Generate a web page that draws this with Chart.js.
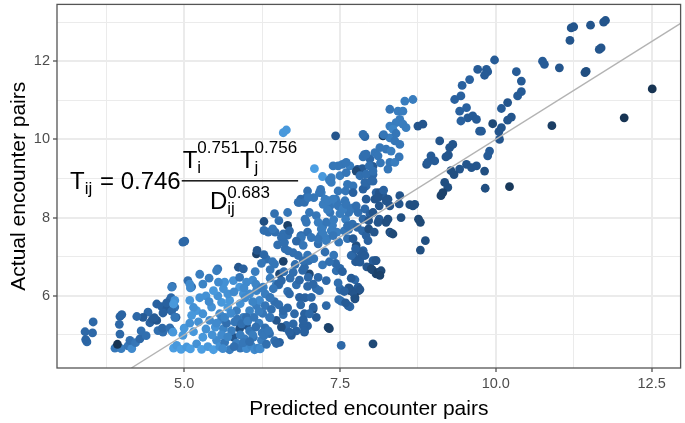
<!DOCTYPE html>
<html>
<head>
<meta charset="utf-8">
<script src="https://cdn.jsdelivr.net/npm/chart.js@4.4.1/dist/chart.umd.min.js"></script>
<style>
  html, body { margin: 0; padding: 0; background: #fff; }
  #encounters { display: block; }
</style>
</head>
<body>
<canvas id="encounters" width="685" height="423"></canvas>
<script>
// each point: [predicted, actual, shade]  (shade = colour variable, 0 dark .. 1 light)
const farLeft = [
  [3.41,5.08,.45],[3.54,5.33,.45],[3.53,5.05,.45],[3.44,4.82,.45],[3.42,4.88,.42],
  [3.97,5.47,.4],[4.00,5.52,.42],[3.96,5.27,.45],[3.97,5.02,.45],[3.89,4.66,.55],[3.99,4.65,.6],[3.93,4.76,.05],
  [4.10,4.72,.55],[4.16,4.65,.7],[4.13,4.86,.5],[4.22,4.80,.55],[4.29,4.90,.45],[4.31,5.10,.5],[4.39,4.98,.5],
  [4.45,5.31,.4],[4.49,5.40,.35],[4.42,5.58,.45],[4.34,5.45,.35],[4.24,5.47,.45],[4.56,5.37,.3],[4.52,5.44,.35],
  [4.58,5.11,.5],[4.66,5.07,.5],[4.65,5.17,.45],[4.56,5.79,.4],[4.64,5.72,.4],[4.72,5.66,.35],[4.66,5.56,.4],
  [4.77,5.88,.45],[4.85,5.71,.5],[4.80,5.61,.45],[4.87,5.45,.4],[4.80,5.11,.55],[4.77,5.18,.5],[4.81,6.24,.45],
  [4.79,5.95,.45],[4.72,5.82,.4],[5.06,6.39,.5],[5.12,6.23,.5],[4.98,7.37,.45],[5.01,7.40,.45]
];
const lowerCluster = [
  [4.83,4.66,.85],[4.88,4.73,.8],[4.95,4.63,.85],[5.04,4.69,.8],[5.10,4.64,.85],[5.20,4.77,.75],[5.28,4.63,.85],
  [5.30,4.94,.8],[5.38,4.70,.8],[5.47,4.62,.85],[5.52,4.86,.7],[5.57,4.70,.75],[5.65,4.81,.55],[5.73,4.62,.6],
  [5.79,4.94,.3],[5.84,4.79,.6],[5.90,4.66,.55],[5.97,4.90,.6],[6.00,4.65,.7],[6.08,4.72,.65],[6.11,4.94,.55],
  [6.13,4.62,.7],[6.18,4.66,.65],[6.24,4.86,.6],[6.22,4.64,.7],[4.82,5.07,.8],[4.98,4.99,.8],[5.00,5.17,.8],
  [5.09,5.30,.75],[5.15,5.08,.8],[5.23,5.33,.75],[5.20,5.62,.8],[5.30,5.54,.75],[5.41,5.37,.7],[5.44,5.71,.75],
  [5.50,5.20,.75],[5.57,5.54,.7],[5.63,5.16,.65],[5.60,5.40,.6],[5.68,5.30,.5],[5.76,5.11,.6],[5.81,5.33,.55],
  [5.89,5.16,.25],[6.00,5.24,.3],[6.05,5.10,.55],[5.95,5.45,.6],[5.84,5.62,.6],[6.05,5.62,.65],[6.16,5.75,.6],
  [6.20,5.30,.6],[6.37,5.45,.55],[6.48,5.37,.3],[6.37,5.03,.5],[6.30,5.18,.5],[6.26,5.55,.55],[4.85,5.88,.75],
  [4.83,5.79,.8],[4.85,5.45,.55],[5.09,5.88,.8],[5.15,5.70,.75],[5.60,5.83,.8],[5.73,5.88,.8],[5.54,6.00,.75],
  [5.47,6.13,.8],[5.63,6.18,.75],[5.65,6.35,.75],[5.89,6.22,.8],[5.79,6.39,.75],[5.95,6.05,.75],[6.05,6.05,.7],
  [6.16,6.13,.65],[6.27,6.22,.65],[6.21,5.88,.7],[6.37,5.96,.65],[6.48,6.30,.6],[5.30,6.30,.65],[5.09,6.30,.7],
  [5.10,6.20,.7],[4.80,6.22,.6],[5.54,6.69,.55],[5.52,6.64,.6],[5.87,6.73,.3],[5.95,6.69,.4],[5.89,6.47,.55],
  [6.16,7.07,.15],[6.32,6.94,.5],[6.45,6.81,.55],[6.38,6.67,.55],[5.35,6.00,.75],[5.25,5.95,.75],[5.40,5.85,.7],
  [5.12,5.50,.8],[5.35,5.15,.75],[5.45,5.00,.75],[5.60,5.00,.7],[5.90,5.00,.6],[5.70,5.70,.8],[5.90,5.80,.75],
  [6.00,5.45,.5],[5.55,6.35,.7],[5.70,6.05,.75],[6.10,6.40,.7],
  [5.52,5.30,.7],[5.65,5.45,.65],[5.75,5.55,.7],[5.85,5.40,.55],[5.92,5.28,.5],[6.02,5.35,.6],[6.12,5.45,.55],
  [6.15,5.20,.5],[6.25,5.05,.55],[6.10,5.00,.6],[5.95,4.80,.55],[5.70,4.95,.65],[5.62,4.65,.7],[5.80,4.70,.5],
  [6.05,4.83,.5],[6.28,4.98,.55],[6.20,5.60,.6],[6.30,5.75,.55],[6.10,5.85,.65],[5.98,5.95,.7],[6.40,5.65,.5],
  [6.45,5.85,.5],[6.30,6.05,.6],[6.15,6.30,.65],[6.00,6.35,.7],[5.80,6.10,.7],[5.40,6.45,.6],[5.25,6.55,.6]
];
const midLower = [
  [6.17,7.16,.3],[6.28,7.05,.45],[6.42,6.87,.55],[6.24,6.83,.55],[6.14,6.62,.6],[6.38,6.45,.6],[6.52,6.28,.55],
  [6.59,6.88,.15],[6.53,6.56,.2],[6.51,6.30,.45],[6.43,6.18,.55],[6.66,6.11,.5],[6.69,6.05,.45],[6.80,6.28,.5],
  [6.85,5.96,.4],[6.98,6.24,.45],[6.94,5.95,.4],[6.87,5.77,.45],[6.66,5.69,.45],[6.52,5.77,.5],[6.38,5.95,.55],
  [6.24,6.20,.6],[5.96,6.20,.7],[6.59,5.52,.5],[6.38,5.44,.55],[6.62,5.18,.45],[6.80,5.10,.4],[6.98,5.23,.4],
  [6.91,5.39,.45],[6.35,5.10,.55],[6.45,4.85,.5],[6.32,4.76,.5],[6.53,4.81,.4],[6.48,4.78,.45],[6.72,4.99,.35],
  [6.64,5.24,.45],[6.91,5.24,.4],[6.93,5.07,.35],[7.31,5.19,.15],[7.33,5.16,.15],[7.07,5.66,.25],[7.12,5.45,.35],
  [6.93,5.54,.4],[7.28,5.75,.45],[7.12,6.18,.5],[7.15,6.47,.45],[7.01,6.56,.2],[6.90,6.65,.45],[7.28,6.39,.45],
  [7.44,6.64,.5],[7.50,6.70,.45],[7.74,6.41,.45],[7.66,6.13,.15],[7.80,6.13,.15],[7.74,5.96,.2],[7.51,6.15,.45],
  [7.52,5.86,.5],[7.66,5.72,.45],[7.52,4.73,.45],[8.03,4.77,.2],[6.70,6.45,.5],[6.78,6.80,.5],[6.60,6.62,.5],
  [6.85,6.40,.45],[7.00,6.90,.5],[7.05,6.95,.5],[7.07,6.30,.45],[7.17,6.13,.5],[7.04,5.96,.45],[7.07,5.71,.4],
  [7.01,5.54,.45],[6.91,5.37,.4],[6.93,5.11,.4],[6.77,5.54,.45],[6.75,5.28,.45],[6.69,5.07,.4],[6.59,5.62,.45],
  [6.56,5.20,.25],[6.56,6.39,.45],[6.93,6.73,.45],[6.99,6.47,.45],[6.75,6.60,.5],[7.66,6.18,.35],[7.79,6.22,.35],
  [7.71,6.09,.3],[7.74,5.92,.25],[7.50,6.18,.45],[7.63,5.75,.4]
];
const middle = [
  [7.98,6.73,.2],[8.08,6.56,.15],[8.02,6.66,.2],[8.14,6.60,.15],[7.82,6.16,.3],[8.07,6.90,.3],[7.76,7.28,.25],
  [7.87,7.15,.4],[7.71,7.03,.4],[8.03,6.90,.35],[7.82,6.95,.35],[7.75,6.87,.35],[7.93,6.74,.3],[7.68,6.45,.35],
  [7.54,6.62,.4],[7.43,6.83,.45],[7.64,6.20,.3],[7.57,6.11,.4],[7.48,5.90,.5],[7.59,5.82,.35],[7.47,6.33,.5],
  [7.22,6.79,.55],[7.33,6.87,.5],[7.40,7.04,.55],[7.26,7.12,.5],[7.08,6.95,.55],[6.98,7.04,.55],[6.91,7.29,.55],
  [6.87,7.53,.55],[6.98,7.63,.5],[6.94,7.96,.55],[7.01,8.13,.55],[7.12,8.05,.55],[7.15,7.33,.5],[7.19,7.54,.55],
  [7.29,7.46,.6],[7.48,7.37,.55],[7.62,7.46,.5],[7.45,7.63,.6],[7.64,7.70,.55],[7.22,7.75,.6],[7.38,7.80,.6],
  [7.28,7.88,.55],[7.40,7.95,.6],[7.59,7.96,.6],[7.34,8.13,.55],[7.50,8.10,.6],[7.64,8.13,.55],[7.71,8.25,.55],
  [7.34,8.30,.55],[7.45,8.38,.6],[7.26,8.47,.6],[7.43,8.47,.55],[7.20,8.64,.6],[7.47,8.68,.55],[7.58,8.43,.55],
  [7.59,8.68,.55],[7.62,8.85,.55],[7.19,8.72,.55],[6.98,8.68,.5],[6.96,8.51,.5],[6.85,8.39,.5],[6.87,8.47,.45],
  [7.08,8.51,.55],[7.30,8.20,.6],[6.66,8.13,.55],[6.66,7.80,.15],[6.52,7.92,.5],[6.66,7.55,.5],[6.46,7.63,.5],
  [6.35,7.63,.5],[6.28,7.67,.5],[6.42,7.71,.55],[6.28,7.90,.25],[6.45,8.10,.5],[6.59,7.58,.5],[6.69,7.66,.45],
  [6.88,7.54,.5],[7.04,7.49,.55],[6.96,7.88,.55],[7.15,7.88,.6],[7.20,7.71,.6],[7.36,7.66,.6],[6.88,7.49,.55],
  [6.62,7.20,.5],[6.75,7.10,.5],[6.50,7.30,.5],[6.80,7.40,.45],[6.83,8.39,.5],[6.93,8.39,.5],[6.99,8.51,.55],
  [7.17,8.64,.55],[7.23,8.34,.6],[7.31,8.43,.6],[7.39,8.47,.6],[7.47,8.30,.55],[7.55,8.22,.6],[7.60,8.34,.55],
  [7.68,8.22,.55],[7.76,8.30,.5],[7.79,8.13,.5],[7.90,8.22,.45],[7.98,8.09,.4],[7.87,7.96,.45],[7.23,7.58,.6],
  [7.15,7.45,.55],[7.28,7.41,.6],[7.39,7.54,.55],[7.57,7.66,.55],[7.62,7.79,.5],[7.70,7.83,.5],[7.78,7.75,.45],
  [7.86,7.66,.45],[7.92,7.54,.4],[7.95,7.41,.4],[7.87,7.15,.4],[7.84,7.11,.35],[7.90,7.03,.35],[7.68,7.03,.45],
  [7.82,6.86,.35],[8.08,6.90,.3],[8.00,6.69,.2],[8.11,6.60,.15],[8.16,6.64,.2],[8.14,6.52,.15],[6.56,7.49,.5],
  [6.61,7.36,.5],[6.67,7.15,.5],[6.83,7.03,.5],[6.91,6.90,.5],[7.36,8.90,.6],[7.71,8.81,.55],[7.92,8.81,.45],
  [8.08,8.64,.4],[8.19,8.56,.35],[8.27,8.47,.3]
];
const middleRight = [
  [7.71,7.46,.35],[7.75,7.20,.4],[7.96,7.71,.25],[8.05,7.63,.3],[8.30,7.63,.2],[7.96,7.92,.3],[8.03,8.13,.3],
  [8.13,7.96,.35],[8.27,7.96,.25],[8.13,8.30,.3],[8.06,8.47,.3],[7.92,8.47,.35],[8.13,8.64,.3],[7.71,8.64,.4],
  [7.78,9.23,.3],[7.86,9.25,.35],[8.03,9.31,.35],[8.03,9.10,.45],[8.03,8.93,.45],[7.98,9.50,.45],[7.89,9.61,.5],
  [8.67,8.30,.25],[8.62,8.33,.25],[8.79,7.88,.2],[8.76,7.96,.2],[8.87,7.41,.25],[8.79,7.17,.25],[8.48,8.00,.25],
  [8.32,7.60,.3],[8.11,7.88,.3],[8.24,7.88,.25],[8.35,7.58,.2],[8.70,8.34,.25],[8.46,8.56,.3],[8.11,8.51,.3],
  [8.24,8.43,.3],[8.30,8.30,.3],[8.20,8.70,.4],[8.45,8.35,.3],[7.87,8.73,.4],[7.90,8.90,.45]
];
const upperArm = [
  [6.59,10.17,.8],[6.64,10.24,.8],[7.09,9.25,.85],[7.22,9.05,.8],[7.43,10.09,.3],[7.90,10.07,.45],[8.19,10.09,.1],
  [7.87,9.55,.5],[7.92,9.62,.5],[8.06,9.66,.55],[7.54,9.36,.55],[7.66,9.32,.6],[7.76,9.19,.2],[7.60,9.41,.55],
  [7.47,9.32,.55],[7.39,9.32,.55],[7.36,9.02,.6],[7.50,9.07,.6],[7.60,9.15,.55],[7.82,9.07,.5],[7.33,8.96,.6],
  [8.67,11.02,.6],[8.54,10.98,.6],[8.30,10.77,.55],[8.43,10.72,.6],[8.51,10.72,.6],[8.46,10.51,.6],[8.40,10.43,.6],
  [8.51,10.39,.6],[8.56,10.30,.6],[8.30,10.34,.6],[8.75,10.34,.3],[8.83,10.39,.3],[8.30,10.04,.6],[8.38,9.96,.55],
  [8.46,9.87,.55],[8.14,9.79,.55],[8.24,9.75,.55],[8.32,9.70,.6],[8.11,9.58,.55],[8.30,9.41,.55],[8.38,9.41,.6],
  [8.27,9.24,.55],[8.35,10.26,.65],[7.87,10.13,.5],[7.92,9.11,.5],[8.03,9.19,.5],[8.00,8.94,.45],[8.20,10.12,.55],
  [8.40,10.15,.55],[8.15,9.40,.55],[8.45,9.55,.55],[7.97,9.32,.5]
];
const rightOfLine = [
  [8.89,9.36,.3],[8.96,9.58,.35],[9.02,9.45,.35],[9.10,9.96,.3],[9.26,9.79,.3],[9.31,9.87,.3],[9.20,9.55,.3],
  [9.24,9.60,.3],[8.91,9.41,.35],[9.34,11.02,.4],[9.44,11.11,.4],[9.42,10.72,.4],[9.53,10.81,.4],[9.55,10.55,.35],
  [9.63,10.60,.35],[9.69,10.51,.35],[9.44,10.47,.4],[9.58,11.53,.4],[9.46,11.38,.4],[9.42,9.24,.3],[9.53,9.36,.3],
  [9.61,9.28,.3],[9.69,9.32,.3],[9.82,9.19,.25],[9.28,9.20,.25],[9.33,9.10,.25],[9.90,9.70,.35],[9.87,9.58,.35],
  [9.74,10.21,.35],[9.18,8.90,.25],[9.23,8.77,.25],[9.12,8.56,.15],[9.15,8.64,.15],[9.83,8.75,.25]
];
const topRight = [
  [9.98,12.03,.35],[9.85,11.79,.35],[9.87,11.73,.35],[9.82,11.64,.35],[9.71,11.79,.35],[10.33,11.73,.35],
  [10.41,11.49,.35],[10.41,11.22,.35],[10.35,11.11,.35],[10.19,10.94,.3],[10.09,10.79,.35],[10.25,10.57,.3],
  [10.19,10.49,.3],[9.95,10.40,.2],[10.09,10.30,.3],[10.05,10.20,.3],[9.77,10.21,.35],[10.06,10.00,.3],
  [10.22,8.79,.08],[10.75,12.00,.35],[10.78,11.92,.35],[11.02,11.83,.3],[10.90,10.35,.12],[11.19,12.53,.3],
  [11.21,12.85,.3],[11.25,12.88,.3],[11.52,12.92,.3],[11.73,13.00,.3],[11.76,13.04,.3],[11.45,11.74,.25],
  [11.43,11.71,.25],[11.69,12.34,.3],[11.66,12.30,.3],[12.06,10.55,.05],[12.51,11.29,.05]
];

const xTickValues = [5, 7.5, 10, 12.5];
const yTickValues = [6, 8, 10, 12];
const xLimits = [2.96, 12.965];
const yLimits = [4.153, 13.452];

// equation label, anchored in data units (left end, fraction bar height)
const equationAt = {x: 3.17, y: 8.94};

// colour ramp (dark navy -> light blue), slightly more saturated in the middle
const colourStops = [
  [0, [19, 43, 67]],
  [0.45, [40, 96, 158]],
  [1, [86, 177, 247]]
];
function shadeColour(s) {
  s = Math.pow(Math.max(0, Math.min(1, s)), 0.85);
  let i = 0;
  while (i < colourStops.length - 2 && s > colourStops[i + 1][0]) i++;
  const [s0, c0] = colourStops[i];
  const [s1, c1] = colourStops[i + 1];
  const t = (s - s0) / (s1 - s0);
  const c = c0.map((v, k) => Math.round(v + (c1[k] - v) * t));
  return `rgb(${c[0]},${c[1]},${c[2]})`;
}

const allPoints = [].concat(farLeft, lowerCluster, midLower, middle, middleRight, upperArm, rightOfLine, topRight);
const pointData = allPoints.map(p => ({x: p[0], y: p[1]}));
const pointColours = allPoints.map(p => shadeColour(p[2]));

// 1:1 reference line across the panel
const identityLine = [
  {x: yLimits[0], y: yLimits[0]},
  {x: xLimits[1], y: xLimits[1]}
];

const isTick = (v, list) => list.some(t => Math.abs(t - v) < 1e-6);
const family = '"Liberation Sans", Arial, Helvetica, sans-serif';

const panelBorder = {
  id: 'panelBorder',
  afterDatasetsDraw(chart) {
    const {ctx, chartArea: a} = chart;
    ctx.save();
    ctx.strokeStyle = '#555555';
    ctx.lineWidth = 1.3;
    ctx.strokeRect(a.left, a.top, a.right - a.left, a.bottom - a.top);
    ctx.restore();
  }
};

const equationLabel = {
  id: 'equationLabel',
  afterDatasetsDraw(chart) {
    const {ctx, scales} = chart;
    const left = scales.x.getPixelForValue(equationAt.x);
    const mid = scales.y.getPixelForValue(equationAt.y);
    const big = '24px ' + family;
    const small = '17px ' + family;
    ctx.save();
    ctx.fillStyle = '#000';
    ctx.textBaseline = 'alphabetic';
    const put = (text, font, px, py) => {
      ctx.font = font;
      ctx.fillText(text, px, py);
      return px + ctx.measureText(text).width;
    };
    const width = (text, font) => { ctx.font = font; return ctx.measureText(text).width; };

    // T_ij = 0.746
    let cx = left;
    const base = mid + 8;
    cx = put('T', big, cx, base);
    cx = put('ij', small, cx, base + 5);
    cx = put(' = 0.746', big, cx + 1, base);
    const barStart = cx + 1;

    // numerator T_i^0.751 T_j^0.756
    let nx = barStart + 1;
    const nBase = mid - 13;
    nx = put('T', big, nx, nBase);
    put('i', small, nx, nBase + 5);
    nx = put('0.751', small, nx, nBase - 15);
    nx = put('T', big, nx, nBase);
    put('j', small, nx, nBase + 5);
    nx = put('0.756', small, nx, nBase - 15);
    const barEnd = nx + 1;
    ctx.fillRect(barStart, mid - 0.7, barEnd - barStart, 1.4);

    // denominator D_ij^0.683, centred under the bar
    const dBase = mid + 28;
    const dWidth = width('D', big) + Math.max(width('ij', small), width('0.683', small));
    let dx = (barStart + barEnd) / 2 - dWidth / 2;
    dx = put('D', big, dx, dBase);
    put('ij', small, dx, dBase + 5);
    put('0.683', small, dx, dBase - 11);
    ctx.restore();
  }
};

const config = {
  type: 'scatter',
  data: {
    datasets: [
      {
        data: identityLine,
        showLine: true,
        borderColor: '#b3b3b3',
        borderWidth: 1.4,
        pointRadius: 0,
        order: 0
      },
      {
        data: pointData,
        pointBackgroundColor: pointColours,
        pointBorderWidth: 0,
        pointRadius: 4.4,
        order: 1
      }
    ]
  },
  options: {
    responsive: false,
    animation: false,
    layout: {padding: {left: 0, right: 4, top: 3, bottom: 0}},
    plugins: {legend: {display: false}, tooltip: {enabled: false}},
    scales: {
      x: {
        type: 'linear',
        min: xLimits[0],
        max: xLimits[1],
        afterFit(scale) {
          scale.height = 55;
          scale.paddingLeft = 0;
          scale.paddingRight = 0;
        },
        border: {display: false},
        grid: {
          color: '#ebebeb',
          lineWidth: c => isTick(c.tick.value, xTickValues) ? 2 : 1,
          tickLength: 4,
          tickColor: c => isTick(c.tick.value, xTickValues) ? '#444' : 'rgba(0,0,0,0)',
          tickWidth: 1.2
        },
        ticks: {
          stepSize: 1.25,
          includeBounds: false,
          autoSkip: false,
          maxRotation: 0,
          padding: 3,
          color: '#4d4d4d',
          font: {family: family, size: 14.5},
          callback: v => isTick(v, xTickValues) ? v.toFixed(1) : ''
        },
        title: {
          display: true,
          text: 'Predicted encounter pairs',
          color: '#000',
          font: {family: family, size: 21},
          padding: {top: 2, bottom: 1}
        }
      },
      y: {
        type: 'linear',
        min: yLimits[0],
        max: yLimits[1],
        afterFit(scale) {
          scale.width = 57;
          scale.paddingTop = 0;
          scale.paddingBottom = 0;
        },
        border: {display: false},
        grid: {
          color: '#ebebeb',
          lineWidth: c => isTick(c.tick.value, yTickValues) ? 2 : 1,
          tickLength: 4,
          tickColor: c => isTick(c.tick.value, yTickValues) ? '#444' : 'rgba(0,0,0,0)',
          tickWidth: 1.2
        },
        ticks: {
          stepSize: 1,
          includeBounds: false,
          autoSkip: false,
          padding: 3,
          color: '#4d4d4d',
          font: {family: family, size: 14.5},
          callback: v => isTick(v, yTickValues) ? String(v) : ''
        },
        title: {
          display: true,
          text: 'Actual encounter pairs',
          color: '#000',
          font: {family: family, size: 21},
          padding: {top: 7, bottom: 4}
        }
      }
    }
  },
  plugins: [panelBorder, equationLabel]
};

const chart = new Chart(document.getElementById('encounters'), config);
</script>
</body>
</html>
